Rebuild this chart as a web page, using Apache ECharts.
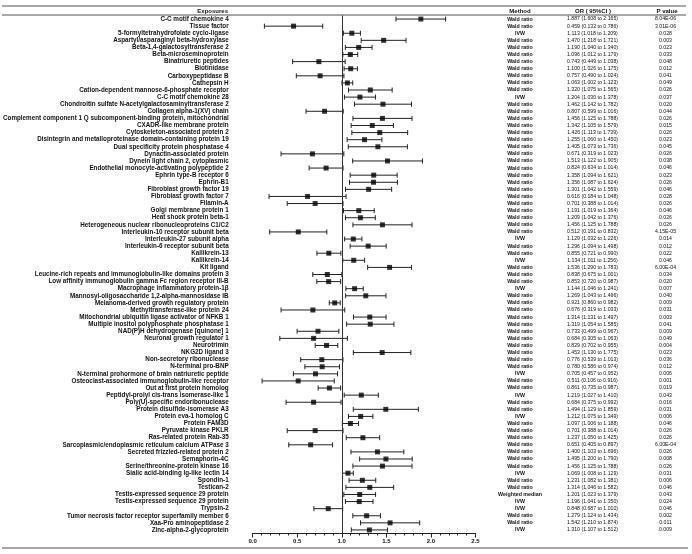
<!DOCTYPE html>
<html><head><meta charset="utf-8">
<script src="https://cdn.jsdelivr.net/npm/echarts@6/dist/echarts.min.js"></script>
<style>html,body{margin:0;padding:0;background:#fff}#c{width:692px;height:554px}</style>
</head><body><div id="c"></div>
<script>
const exposures = ["C-C motif chemokine 4","Tissue factor","5-formyltetrahydrofolate cyclo-ligase","Aspartyl/asparaginyl beta-hydroxylase","Beta-1,4-galactosyltransferase 2","Beta-microseminoprotein","Binatriuretic peptides","Biotinidase","Carboxypeptidase B","Cathepsin H","Cation-dependent mannose-6-phosphate receptor","C-C motif chemokine 28","Chondroitin sulfate N-acetylgalactosaminyltransferase 2","Collagen alpha-1(XV) chain","Complement component 1 Q subcomponent-binding protein, mitochondrial","CXADR-like membrane protein","Cytoskeleton-associated protein 2","Disintegrin and metalloproteinase domain-containing protein 19","Dual specificity protein phosphatase 4","Dynactin-associated protein","Dynein light chain 2, cytoplasmic","Endothelial monocyte-activating polypeptide 2","Ephrin type-B receptor 6","Ephrin-B1","Fibroblast growth factor 19","Fibroblast growth factor 7","Filamin-A","Golgi membrane protein 1","Heat shock protein beta-1","Heterogeneous nuclear ribonucleoproteins C1/C2","Interleukin-10 receptor subunit beta","Interleukin-27 subunit alpha","Interleukin-6 receptor subunit beta","Kallikrein-13","Kallikrein-14","Kit ligand","Leucine-rich repeats and immunoglobulin-like domains protein 3","Low affinity immunoglobulin gamma Fc region receptor III-B","Macrophage inflammatory protein-1β","Mannosyl-oligosaccharide 1,2-alpha-mannosidase IB","Melanoma-derived growth regulatory protein","Methyltransferase-like protein 24","Mitochondrial ubiquitin ligase activator of NFKB 1","Multiple inositol polyphosphate phosphatase 1","NAD(P)H dehydrogenase [quinone] 1","Neuronal growth regulator 1","Neurotrimin","NKG2D ligand 3","Non-secretory ribonuclease","N-terminal pro-BNP","N-terminal prohormone of brain natriuretic peptide","Osteoclast-associated immunoglobulin-like receptor","Out at first protein homolog","Peptidyl-prolyl cis-trans isomerase-like 1","Poly(U)-specific endoribonuclease","Protein disulfide-isomerase A3","Protein eva-1 homolog C","Protein FAM3D","Pyruvate kinase PKLR","Ras-related protein Rab-35","Sarcoplasmic/endoplasmic reticulum calcium ATPase 3","Secreted frizzled-related protein 2","Semaphorin-4C","Serine/threonine-protein kinase 16","Sialic acid-binding Ig-like lectin 14","Spondin-1","Testican-2","Testis-expressed sequence 29 protein","Testis-expressed sequence 29 protein","Trypsin-2","Tumor necrosis factor receptor superfamily member 6","Xaa-Pro aminopeptidase 2","Zinc-alpha-2-glycoprotein"];
const methods = ["Wald ratio","Wald ratio","IVW","Wald ratio","Wald ratio","Wald ratio","Wald ratio","Wald ratio","Wald ratio","Wald ratio","Wald ratio","IVW","Wald ratio","Wald ratio","Wald ratio","Wald ratio","Wald ratio","Wald ratio","Wald ratio","Wald ratio","Wald ratio","Wald ratio","Wald ratio","Wald ratio","Wald ratio","Wald ratio","Wald ratio","Wald ratio","Wald ratio","Wald ratio","Wald ratio","IVW","Wald ratio","Wald ratio","IVW","Wald ratio","Wald ratio","Wald ratio","IVW","Wald ratio","Wald ratio","Wald ratio","Wald ratio","Wald ratio","Wald ratio","Wald ratio","Wald ratio","Wald ratio","Wald ratio","Wald ratio","IVW","Wald ratio","Wald ratio","IVW","Wald ratio","Wald ratio","IVW","Wald ratio","Wald ratio","Wald ratio","Wald ratio","Wald ratio","Wald ratio","Wald ratio","IVW","Wald ratio","Wald ratio","Weighted median","IVW","IVW","Wald ratio","Wald ratio","IVW"];
const orValues = [1.887,0.459,1.113,1.470,1.190,1.096,0.743,1.100,0.757,1.063,1.320,1.204,1.462,0.807,1.456,1.342,1.426,1.255,1.405,0.671,1.513,0.824,1.358,1.356,1.301,0.616,0.701,1.191,1.209,1.456,0.512,1.129,1.296,0.855,1.134,1.536,0.838,0.853,1.144,1.269,0.921,0.676,1.314,1.319,0.733,0.684,0.829,1.453,0.776,0.780,0.705,0.511,0.861,1.219,0.684,1.494,1.212,1.097,0.701,1.237,0.651,1.400,1.495,1.456,1.069,1.231,1.314,1.201,1.196,0.848,1.279,1.542,1.310];
const lowerCI = [1.608,0.132,1.018,1.218,1.040,1.012,0.449,1.026,0.490,1.002,1.075,1.030,1.142,0.599,1.125,1.105,1.113,1.060,1.073,0.319,1.122,0.634,1.094,1.087,1.042,0.184,0.388,1.019,1.042,1.125,0.191,1.032,1.094,0.721,1.011,1.290,0.675,0.720,1.046,1.043,0.860,0.319,1.131,1.054,0.499,0.305,0.702,1.130,0.539,0.586,0.457,0.106,0.735,1.027,0.375,1.129,1.075,1.006,0.388,1.050,0.405,1.103,1.200,1.125,1.008,1.082,1.046,1.023,1.041,0.687,1.124,1.210,1.107];
const upperCI = [2.165,0.786,1.209,1.721,1.340,1.179,1.038,1.175,1.024,1.123,1.565,1.378,1.782,1.016,1.788,1.579,1.739,1.450,1.736,1.023,1.905,1.014,1.621,1.624,1.559,1.048,1.014,1.364,1.376,1.788,0.832,1.226,1.498,0.990,1.256,1.783,1.001,0.987,1.241,1.496,0.982,1.033,1.497,1.585,0.967,1.063,0.955,1.775,1.013,0.974,0.952,0.916,0.987,1.410,0.992,1.859,1.349,1.188,1.014,1.425,0.897,1.696,1.790,1.788,1.129,1.381,1.582,1.379,1.350,1.010,1.434,1.874,1.512];
const pValues = ["8.04E-06","3.01E-06","0.028","0.003","0.023","0.033","0.048","0.012","0.041","0.049","0.026","0.037","0.020","0.044","0.026","0.015","0.026","0.023","0.045","0.026","0.038","0.046","0.023","0.026","0.046","0.028","0.026","0.046","0.026","0.026","4.15E-05","0.014","0.012","0.022","0.046","6.00E-04","0.034","0.020","0.007","0.040","0.009","0.031","0.003","0.041","0.009","0.049","0.004","0.023","0.036","0.012","0.006","0.001","0.019","0.043","0.016","0.031","0.006","0.046","0.026","0.026","6.00E-04","0.026","0.008","0.026","0.031","0.006","0.046","0.043","0.024","0.046","0.002","0.011","0.009"];
const xTicks = {min: 0, max: 2.5, interval: 0.5};
const headers = ["Exposures", "Method", "OR ( 95%CI )", "P value"];

const orText = orValues.map((v, i) => v.toFixed(3) + " (" + lowerCI[i].toFixed(3) + " to " + upperCI[i].toFixed(3) + ")");
const ciRows = orValues.map((v, i) => [lowerCI[i], upperCI[i], i]);
const pointRows = orValues.map((v, i) => [v, i]);

const GL = 252, GR = 692 - 475.5, GT = 15.5, GB = 554 - 533.5;
const ruleColor = '#8a8a8a';
const chart = echarts.init(document.getElementById('c'), null, {renderer: 'canvas'});
const colAxis = (data, offset, size, weight) => ({
  type: 'category', data: data, inverse: true, position: 'right', offset: offset,
  axisLine: {show: false}, axisTick: {show: false},
  axisLabel: {align: 'center', margin: 0, fontSize: size, fontWeight: weight, color: '#111', fontFamily: 'Liberation Sans', interval: 0}
});
chart.setOption({
  animation: false,
  grid: {left: GL, right: GR, top: GT, bottom: GB, containLabel: false},
  xAxis: {
    type: 'value', min: xTicks.min, max: xTicks.max, interval: xTicks.interval,
    axisLine: {show: true, lineStyle: {color: '#222', width: 1}},
    axisTick: {show: true, length: 4, lineStyle: {color: '#222'}},
    minorTick: {show: true, splitNumber: 5, length: 2, lineStyle: {color: '#222'}},
    splitLine: {show: false},
    axisLabel: {formatter: v => v.toFixed(1), fontSize: 6, fontWeight: 'bold', color: '#111', margin: 5, fontFamily: 'Liberation Sans'}
  },
  yAxis: [
    {type: 'category', data: exposures.map((e, i) => i), inverse: true,
     axisLine: {show: false}, axisTick: {show: false},
     axisLabel: {margin: 24, fontSize: 6.3, fontWeight: 'bold', color: '#111', fontFamily: 'Liberation Sans', interval: 0,
       formatter: (v, i) => exposures[i]}},
    colAxis(methods, 44.5, 5.3, 'bold'),
    colAxis(orText, 117, 5.2, 'normal'),
    colAxis(pValues, 190, 5.2, 'normal')
  ],
  series: [{
    type: 'custom', xAxisIndex: 0, yAxisIndex: 0, data: ciRows,
    dimensions: ['lo', 'hi', 'row'],
    encode: {x: [0, 1], y: 2},
    renderItem: (params, api) => {
      const y = api.value(2);
      const p0 = api.coord([api.value(0), y]);
      const p1 = api.coord([api.value(1), y]);
      const st = {stroke: '#222', lineWidth: 1};
      const cap = 2.5;
      return {type: 'group', children: [
        {type: 'line', shape: {x1: p0[0], y1: p0[1], x2: p1[0], y2: p1[1]}, style: st},
        {type: 'line', shape: {x1: p0[0], y1: p0[1] - cap, x2: p0[0], y2: p0[1] + cap}, style: st},
        {type: 'line', shape: {x1: p1[0], y1: p1[1] - cap, x2: p1[0], y2: p1[1] + cap}, style: st}
      ]};
    }
  }, {
    type: 'scatter', xAxisIndex: 0, yAxisIndex: 0, data: pointRows,
    symbol: 'rect', symbolSize: 5, itemStyle: {color: '#000'}, z: 5,
    markLine: {silent: true, symbol: 'none', label: {show: false},
      lineStyle: {color: '#333', type: 'solid', width: 1}, data: [{xAxis: 1}]}
  }],
  graphic: [
    {type: 'line', shape: {x1: 2, y1: 6, x2: 686, y2: 6}, style: {stroke: ruleColor, lineWidth: 1.5}},
    {type: 'line', shape: {x1: 2, y1: 15, x2: 686, y2: 15}, style: {stroke: ruleColor, lineWidth: 1.5}},
    {type: 'line', shape: {x1: 2, y1: 548, x2: 688, y2: 548}, style: {stroke: ruleColor, lineWidth: 1.5}},
    {type: 'text', style: {text: headers[0], x: 228, y: 11, align: 'right', verticalAlign: 'middle', font: 'bold 6px Liberation Sans', fill: '#111'}},
    {type: 'text', style: {text: headers[1], x: 520, y: 11, align: 'center', verticalAlign: 'middle', font: 'bold 6px Liberation Sans', fill: '#111'}},
    {type: 'text', style: {text: headers[2], x: 593, y: 11, align: 'center', verticalAlign: 'middle', font: 'bold 6px Liberation Sans', fill: '#111'}},
    {type: 'text', style: {text: headers[3], x: 667, y: 11, align: 'center', verticalAlign: 'middle', font: 'bold 6px Liberation Sans', fill: '#111'}}
  ]
});
</script></body></html>
